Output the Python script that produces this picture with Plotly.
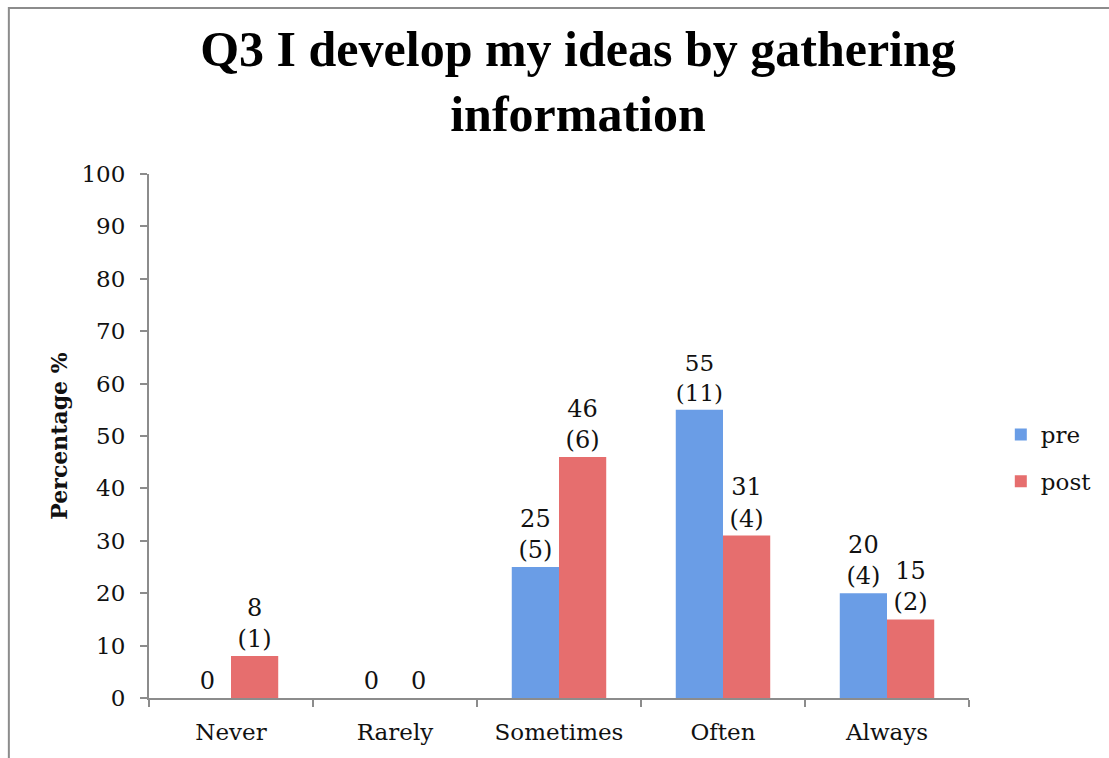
import plotly.graph_objects as go

# Survey responses to Q3, percentage of respondents (count in brackets)
categories = ["Never", "Rarely", "Sometimes", "Often", "Always"]
pre_pct = [0, 0, 25, 55, 20]
pre_n = [0, 0, 5, 11, 4]
post_pct = [8, 0, 46, 31, 15]
post_n = [1, 0, 6, 4, 2]
y_ticks = list(range(0, 101, 10))


def label_text(pcts, counts):
    # zero-value bars show only the percentage, others add the count beneath
    return [f"{p}" if c == 0 else f"{p}<br>({c})" for p, c in zip(pcts, counts)]


FONT = "DejaVu Serif"
W, H = 1109, 758
ML, MR, MT, MB = 149, 135, 174, 60

fig = go.Figure()
fig.add_trace(go.Bar(
    name="pre", x=categories, y=pre_pct,
    text=label_text(pre_pct, pre_n), textposition="outside",
    marker=dict(color="#6a9de6", line=dict(width=0)),
    textfont=dict(family=FONT, size=24, color="#111"),
    cliponaxis=False, legendgroup="pre",
))
fig.add_trace(go.Bar(
    name="post", x=categories, y=post_pct,
    text=label_text(post_pct, post_n), textposition="outside",
    marker=dict(color="#e66e6e", line=dict(width=0)),
    textfont=dict(family=FONT, size=24, color="#111"),
    cliponaxis=False, legendgroup="post",
))

pw = W - ML - MR
ph = H - MT - MB


def px_x(p):
    return (p - ML) / pw


def px_y(p):
    return (H - MB - p) / ph


fig.update_layout(
    width=W, height=H,
    margin=dict(l=ML, r=MR, t=MT, b=MB),
    paper_bgcolor="white", plot_bgcolor="white",
    barmode="group", bargap=0.424, bargroupgap=0,
    font=dict(family=FONT, size=24, color="#111"),
    title=dict(
        text="<b>Q3 I develop my ideas by gathering<br>information</b>",
        x=578 / W, xanchor="center", xref="container",
        y=1 - 66 / H, yanchor="top", yref="container",
        font=dict(family="Liberation Serif", size=50, color="#000"),
    ),
    xaxis=dict(
        type="category", showline=True, linecolor="#8c8c8c", linewidth=2,
        ticks="outside", tickson="boundaries", ticklen=7, tickwidth=2,
        tickcolor="#8c8c8c", showgrid=False, zeroline=False,
        tickfont=dict(family=FONT, size=23), ticklabelstandoff=12,
    ),
    yaxis=dict(
        range=[0, 100], tickvals=y_ticks, showline=True, linecolor="#8c8c8c",
        linewidth=2, ticks="outside", ticklen=7, tickwidth=2, tickcolor="#8c8c8c",
        showgrid=False, zeroline=False, tickfont=dict(family=FONT, size=23),
        ticklabelstandoff=10,
        title=dict(text="<b>Percentage %</b>", font=dict(family=FONT, size=22),
                   standoff=8),
    ),
    legend=dict(
        x=px_x(1006), xanchor="left", y=px_y(413), yanchor="top",
        font=dict(family=FONT, size=23), tracegroupgap=14,
        bgcolor="rgba(0,0,0,0)",
    ),
    shapes=[dict(
        type="rect", xref="paper", yref="paper",
        x0=px_x(8), x1=px_x(1130), y0=px_y(780), y1=px_y(8),
        line=dict(color="#8c8c8c", width=2), fillcolor="rgba(0,0,0,0)",
        layer="below",
    )],
)

fig.write_html("out.html")
